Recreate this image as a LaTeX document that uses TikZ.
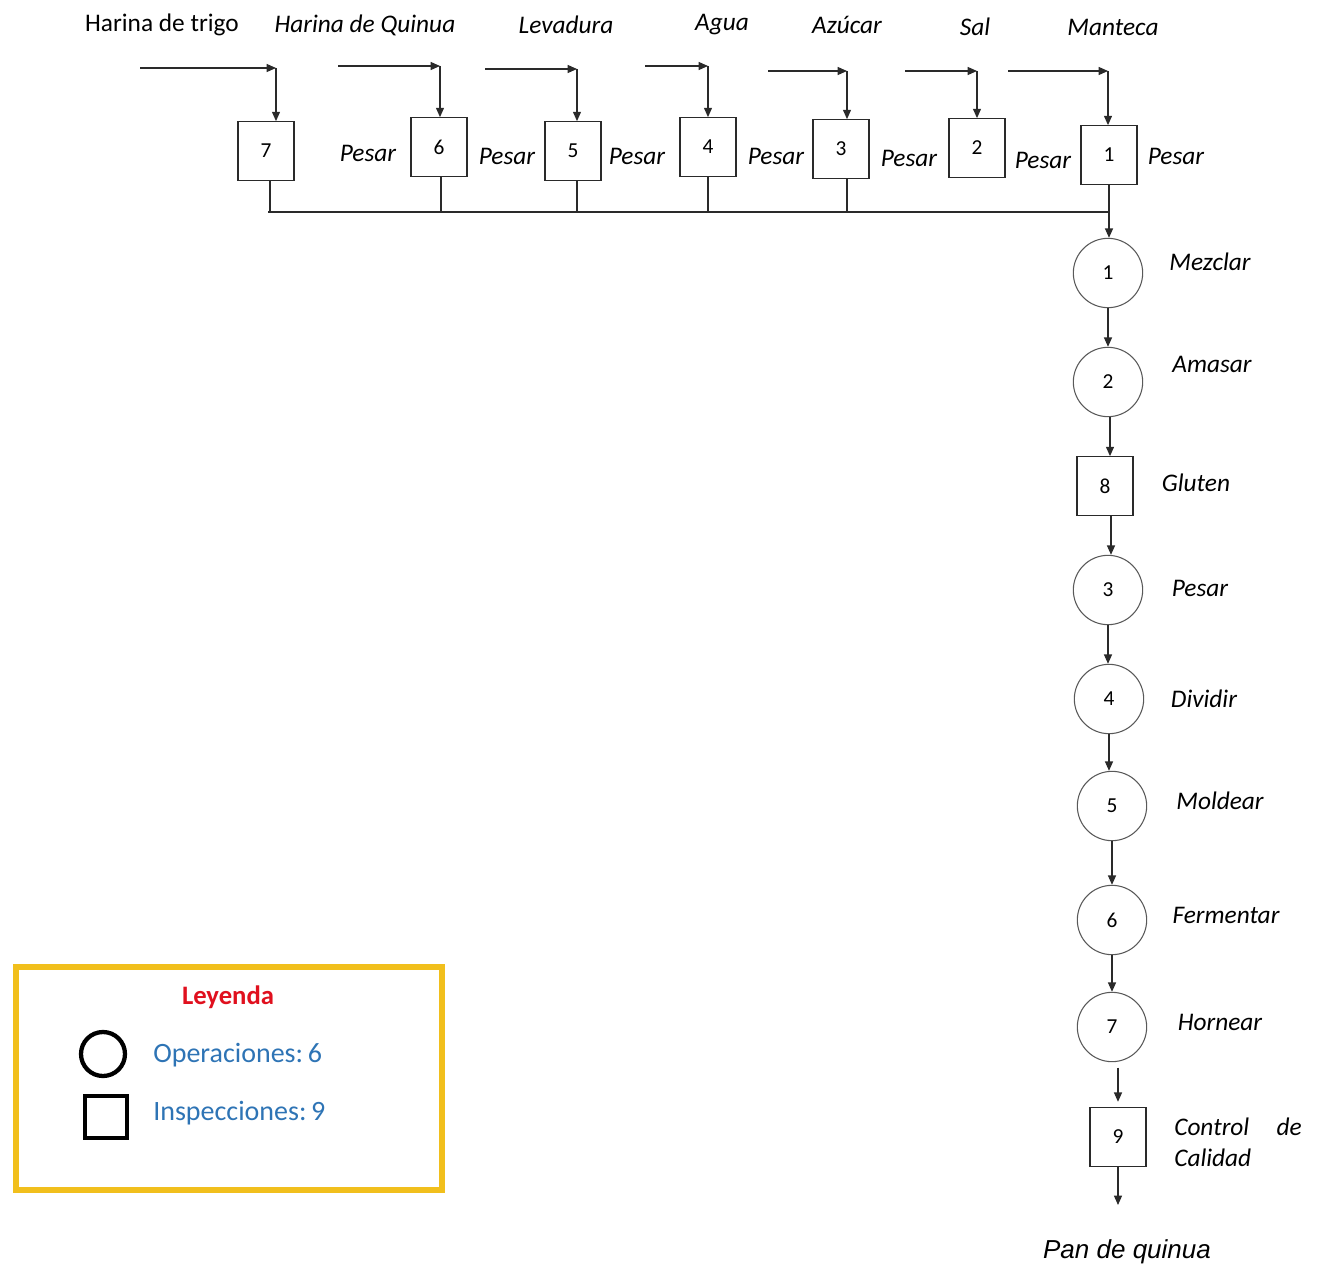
\documentclass[tikz,border=0pt]{standalone}
\usepackage{fontspec}
\setmainfont{Carlito}
\newfontfamily\arialf{Liberation Sans}
\usetikzlibrary{arrows.meta}
\definecolor{legyellow}{HTML}{F1BF1C}
\definecolor{legred}{HTML}{E0101E}
\definecolor{legblue}{HTML}{2E74B5}
\definecolor{ln}{HTML}{2A2A2A}
\begin{document}
\begin{tikzpicture}[x=0.75pt,y=-0.75pt,
  lbl/.style={font=\fontsize{19}{22}\selectfont\itshape, inner sep=0pt},
  lblup/.style={font=\fontsize{19}{22}\selectfont, inner sep=0pt},
  num/.style={font=\fontsize{16}{18}\selectfont},
  insp/.style={draw=ln, line width=0.8pt, minimum width=42pt, minimum height=44pt, inner sep=0pt, num},
  oper/.style={circle, draw=black!65, line width=0.8pt, minimum size=52pt, inner sep=0pt, num},
  conn/.style={draw=ln, line width=0.9pt},
  arr/.style={conn, -{Triangle[length=7pt,width=6pt]}},
]
\useasboundingbox (0,0) rectangle (1322,1270);

% ---- input labels
\node[lblup] (tTrigo) at (162,25) {Harina de trigo};
\node[lbl] (tQuinua) at (365,25) {Harina de Quinua};
\node[lbl] (tLev) at (566,25) {Levadura};
\node[lbl] (tAgua) at (722,25) {Agua};
\node[lbl] (tAzu) at (847,25) {Azúcar};
\node[lbl] (tSal) at (975,27) {Sal};
\node[lbl] (tMan) at (1113,27) {Manteca};

% ---- weighing inspections
\node[insp] (b7) at (266,151) {7};
\node[insp] (b6) at (439,147) {6};
\node[insp] (b5) at (573,151) {5};
\node[insp] (b4) at (708,147) {4};
\node[insp] (b3) at (841,149) {3};
\node[insp] (b2) at (977,148) {2};
\node[insp] (b1) at (1109,155) {1};

\node[lbl] (p6) at (368,153) {Pesar};
\node[lbl] (p5) at (507,156) {Pesar};
\node[lbl] (p4) at (637,156) {Pesar};
\node[lbl] (p3) at (776,156) {Pesar};
\node[lbl] (p2) at (909,158) {Pesar};
\node[lbl] (p1) at (1043,160) {Pesar};
\node[lbl] (p0) at (1176,156) {Pesar};

% ---- input arrows
\coordinate (s7) at (140,68);  \coordinate (k7) at (276,68);
\coordinate (s6) at (338,66);  \coordinate (k6) at (440,66);
\coordinate (s5) at (485,69);  \coordinate (k5) at (577,69);
\coordinate (s4) at (645,66);  \coordinate (k4) at (708,66);
\coordinate (s3) at (768,71);  \coordinate (k3) at (847,71);
\coordinate (s2) at (905,71);  \coordinate (k2) at (977,71);
\coordinate (s1) at (1008,71); \coordinate (k1) at (1108,71);
\foreach \i in {1,...,7}{
  \draw[arr] (s\i) -- (k\i);
  \draw[arr] (k\i) -- (k\i |- b\i.north);
}

% ---- collector
\coordinate (jn) at (1108,212);
\coordinate (j7) at (268,212);
\draw[conn, line width=1.3pt] (j7) -- (jn);
\draw[conn] (b7.south -| 270,0) -- (270,212);
\draw[conn] (b6.south -| 441,0) -- (441,212);
\draw[conn] (b5.south -| 577,0) -- (577,212);
\draw[conn] (b4.south -| 708,0) -- (708,212);
\draw[conn] (b3.south -| 847,0) -- (847,212);

% ---- main process column
\node[oper] (c1) at (1108,273) {1};
\node[oper] (c2) at (1108,382) {2};
\node[insp] (b8) at (1105,486) {8};
\node[oper] (c3) at (1108,590) {3};
\node[oper] (c4) at (1109,699) {4};
\node[oper] (c5) at (1112,806) {5};
\node[oper] (c6) at (1112,920) {6};
\node[oper] (c7) at (1112,1027) {7};
\node[insp] (b9) at (1118,1137) {9};
\coordinate (out) at (1118,1205);

\node[lbl] (l1) at (1210,262) {Mezclar};
\node[lbl] (l2) at (1212,364) {Amasar};
\node[lbl] (l8) at (1196,483) {Gluten};
\node[lbl] (l3) at (1200,588) {Pesar};
\node[lbl] (l4) at (1204,699) {Dividir};
\node[lbl] (l5) at (1220,801) {Moldear};
\node[lbl] (l6) at (1226,915) {Fermentar};
\node[lbl] (l7) at (1220,1022) {Hornear};
\node[lbl, anchor=west] (l9a) at (1174,1127) {Control};
\node[lbl, anchor=east] (l9b) at (1302,1127) {de};
\node[lbl, anchor=west] (l9c) at (1174,1158) {Calidad};
\node[font=\arialf\fontsize{19.5}{22}\selectfont\itshape, inner sep=0pt] (pan) at (1127,1252) {Pan de quinua};

\draw[arr] (b1.south) -- (b1.south |- c1.north);
\draw[arr] (c1.south) -- (c1.south |- c2.north);
\draw[arr] (c2.south -| 1110,0) -- (1110,0 |- b8.north);
\draw[arr] (b8.south -| 1111,0) -- (1111,0 |- c3.north);
\draw[arr] (c3.south) -- (c3.south |- c4.north);
\draw[arr] (c4.south) -- (c4.south |- c5.north);
\draw[arr] (c5.south) -- (c5.south |- c6.north);
\draw[arr] (c6.south) -- (c6.south |- c7.north);
\draw[arr, shorten <=4pt, shorten >=4pt] (b9.north |- c7.south) -- (b9.north);
\draw[arr] (b9.south) -- (out);

% ---- legend
\draw[legyellow, line width=3.8pt] (16,967) rectangle (442,1190);
\node[font=\fontsize{20}{23}\selectfont\bfseries, text=legred] (leg) at (228,997) {Leyenda};
\node[circle, draw=black, line width=3.2pt, minimum size=33pt, inner sep=0pt] (legc) at (103,1054) {};
\node[draw=black, line width=3.2pt, minimum size=32pt, inner sep=0pt] (legs) at (106,1117) {};
\node[font=\fontsize{21}{24}\selectfont, text=legblue, anchor=west, inner sep=0pt] (lego) at (153,1055) {Operaciones:\,6};
\node[font=\fontsize{21}{24}\selectfont, text=legblue, anchor=west, inner sep=0pt] (legi) at (153,1113) {Inspecciones:\,9};
\end{tikzpicture}
\end{document}
